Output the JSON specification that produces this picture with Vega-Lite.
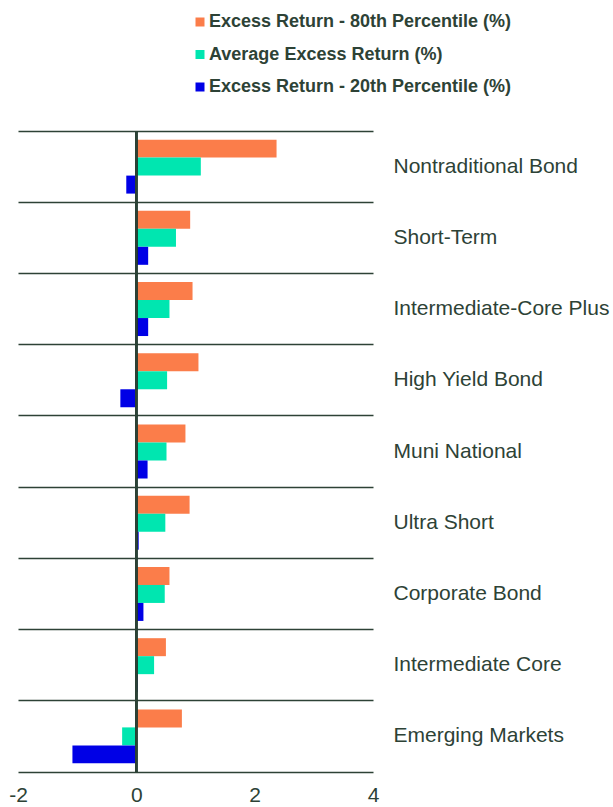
{
  "$schema": "https://vega.github.io/schema/vega-lite/v6.json",
  "width": 355,
  "height": 641,
  "autosize": {"type": "none"},
  "padding": {"left": 18, "top": 131, "right": 240, "bottom": 35},
  "background": "white",
  "config": {"view": {"stroke": null}, "font": "Liberation Sans"},
  "data": {
    "values": [
      {"category": "Nontraditional Bond", "series": "Excess Return - 80th Percentile (%)", "value": 2.37},
      {"category": "Nontraditional Bond", "series": "Average Excess Return (%)", "value": 1.09},
      {"category": "Nontraditional Bond", "series": "Excess Return - 20th Percentile (%)", "value": -0.17},
      {"category": "Short-Term", "series": "Excess Return - 80th Percentile (%)", "value": 0.91},
      {"category": "Short-Term", "series": "Average Excess Return (%)", "value": 0.67},
      {"category": "Short-Term", "series": "Excess Return - 20th Percentile (%)", "value": 0.2},
      {"category": "Intermediate-Core Plus", "series": "Excess Return - 80th Percentile (%)", "value": 0.95},
      {"category": "Intermediate-Core Plus", "series": "Average Excess Return (%)", "value": 0.56},
      {"category": "Intermediate-Core Plus", "series": "Excess Return - 20th Percentile (%)", "value": 0.2},
      {"category": "High Yield Bond", "series": "Excess Return - 80th Percentile (%)", "value": 1.05},
      {"category": "High Yield Bond", "series": "Average Excess Return (%)", "value": 0.52},
      {"category": "High Yield Bond", "series": "Excess Return - 20th Percentile (%)", "value": -0.27},
      {"category": "Muni National", "series": "Excess Return - 80th Percentile (%)", "value": 0.83},
      {"category": "Muni National", "series": "Average Excess Return (%)", "value": 0.51},
      {"category": "Muni National", "series": "Excess Return - 20th Percentile (%)", "value": 0.19},
      {"category": "Ultra Short", "series": "Excess Return - 80th Percentile (%)", "value": 0.9},
      {"category": "Ultra Short", "series": "Average Excess Return (%)", "value": 0.49},
      {"category": "Ultra Short", "series": "Excess Return - 20th Percentile (%)", "value": 0.04},
      {"category": "Corporate Bond", "series": "Excess Return - 80th Percentile (%)", "value": 0.56},
      {"category": "Corporate Bond", "series": "Average Excess Return (%)", "value": 0.48},
      {"category": "Corporate Bond", "series": "Excess Return - 20th Percentile (%)", "value": 0.12},
      {"category": "Intermediate Core", "series": "Excess Return - 80th Percentile (%)", "value": 0.5},
      {"category": "Intermediate Core", "series": "Average Excess Return (%)", "value": 0.3},
      {"category": "Intermediate Core", "series": "Excess Return - 20th Percentile (%)", "value": 0.02},
      {"category": "Emerging Markets", "series": "Excess Return - 80th Percentile (%)", "value": 0.77},
      {"category": "Emerging Markets", "series": "Average Excess Return (%)", "value": -0.24},
      {"category": "Emerging Markets", "series": "Excess Return - 20th Percentile (%)", "value": -1.08}
    ]
  },
  "layer": [
    {
      "mark": {"type": "bar"},
      "encoding": {
        "y": {
          "field": "category",
          "type": "nominal",
          "sort": ["Nontraditional Bond", "Short-Term", "Intermediate-Core Plus", "High Yield Bond", "Muni National", "Ultra Short", "Corporate Bond", "Intermediate Core", "Emerging Markets"],
          "scale": {"paddingInner": 0, "paddingOuter": 0},
          "axis": {
            "orient": "right",
            "title": null,
            "ticks": false,
            "domain": false,
            "labelPadding": 20,
            "labelFontSize": 21,
            "labelColor": "#2d4236",
            "labelAlign": "left",
            "labelLimit": 0,
            "grid": true,
            "gridColor": "#2d4236",
            "gridWidth": 1.5,
            "bandPosition": 0
          }
        },
        "yOffset": {
          "field": "series",
          "type": "nominal",
          "sort": ["Excess Return - 80th Percentile (%)", "Average Excess Return (%)", "Excess Return - 20th Percentile (%)"],
          "scale": {"paddingInner": 0, "paddingOuter": 0.48}
        },
        "x": {
          "field": "value",
          "type": "quantitative",
          "scale": {"domain": [-2, 4], "nice": false, "zero": false},
          "axis": {
            "values": [-2, 0, 2, 4],
            "labelExpr": "'' + datum.value",
            "title": null,
            "grid": false,
            "ticks": false,
            "domainColor": "#2d4236",
            "domainWidth": 1.5,
            "labelFontSize": 21,
            "labelColor": "#2d4236",
            "labelPadding": 12,
            "labelFlush": false
          }
        },
        "color": {
          "field": "series",
          "type": "nominal",
          "scale": {
            "domain": ["Excess Return - 80th Percentile (%)", "Average Excess Return (%)", "Excess Return - 20th Percentile (%)"],
            "range": ["#fb7d4a", "#00e6b0", "#0000e6"]
          },
          "legend": {
            "orient": "none",
            "legendX": 173,
            "legendY": -118,
            "title": null,
            "padding": 0,
            "symbolType": "square",
            "symbolSize": 81,
            "symbolStrokeWidth": 0,
            "labelFontSize": 18,
            "labelFontWeight": "bold",
            "labelColor": "#2d4236",
            "labelOffset": 0,
            "rowPadding": 14.5,
            "labelLimit": 400
          }
        }
      }
    },
    {
      "mark": {"type": "rule", "color": "#2d4236", "strokeWidth": 1.5},
      "encoding": {"x": {"datum": 0}}
    }
  ]
}
